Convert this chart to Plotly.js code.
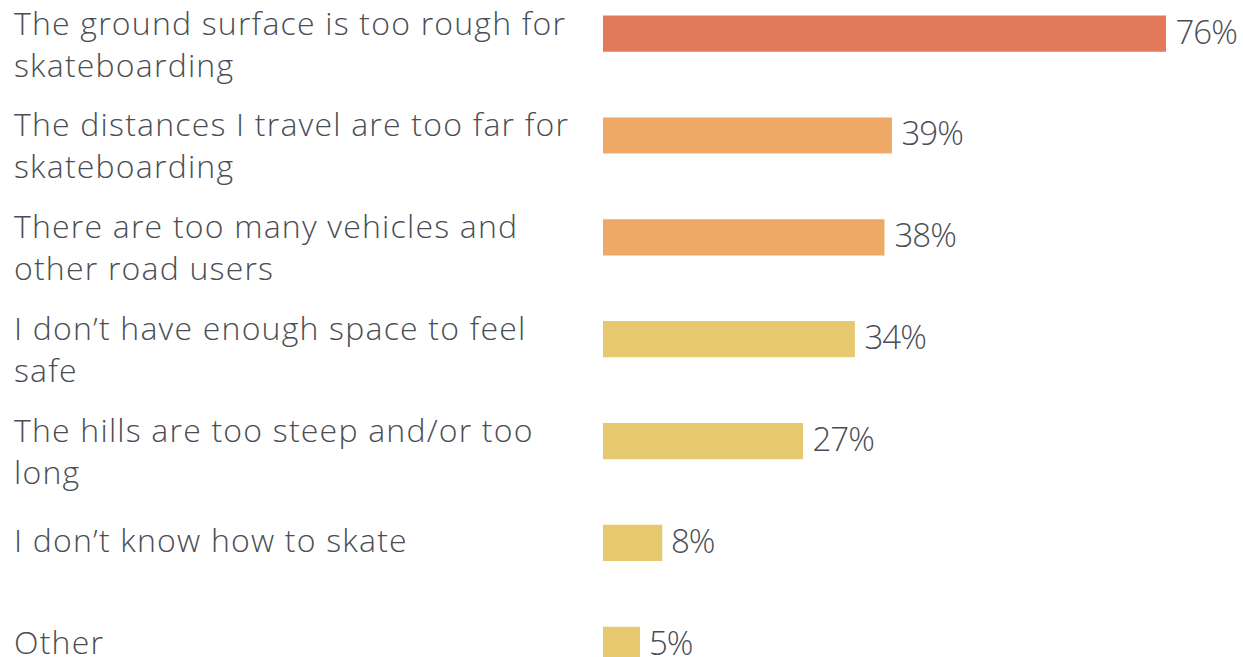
<!DOCTYPE html>
<html>
<head>
<meta charset="utf-8">
<script src="https://cdn.plot.ly/plotly-3.0.1.min.js"></script>
<style>html,body{margin:0;padding:0;background:#fff;}#chart{width:1243px;height:657px;}</style>
</head>
<body>
<div id="chart"></div>
<script>
const categories = [
  "The ground surface is too rough for<br>skateboarding",
  "The distances I travel are too far for<br>skateboarding",
  "There are too many vehicles and<br>other road users",
  "I don\u2019t have enough space to feel<br>safe",
  "The hills are too steep and/or too<br>long",
  "I don\u2019t know how to skate",
  "Other"
];
const values = [76, 39, 38, 34, 27, 8, 5];
const valueLabels = ["76%", "39%", "38%", "34%", "27%", "8%", "5%"];
const barColors = ["#e27a5a", "#efa966", "#efa966", "#e6c86e", "#e6c86e", "#e6c86e", "#e6c86e"];

const ids = categories.map((c, i) => i);
const textColor = "#4a4e54";
const fontFam = "'Open Sans', Lato, sans-serif";

const trace = {
  type: "bar",
  orientation: "h",
  x: values,
  y: ids,
  width: 0.355,
  marker: {color: barColors, line: {width: 0}},
  hoverinfo: "none"
};

const annotations = [];
const labelIdx = [], valueIdx = [];
categories.forEach((c, i) => {
  const lines = c.split("<br>");
  lines.forEach((line, k) => {
    labelIdx.push(annotations.length);
    annotations.push({
      xref: "paper", yref: "y", x: -603/640 + 12/640, y: ids[i],
      xanchor: "left", yanchor: "middle", align: "left",
      yshift: (lines.length > 1 ? 11.5 : 3) - k * 42,
      text: line, showarrow: false,
      font: {family: fontFam, size: 32, weight: 300, color: textColor}
    });
  });
  valueIdx.push(annotations.length);
  annotations.push({
    xref: "x", yref: "y", x: values[i], y: ids[i],
    xanchor: "left", yanchor: "middle", xshift: 6, yshift: 2.5,
    text: valueLabels[i], showarrow: false,
    font: {family: fontFam, size: 33, weight: 300, color: textColor}
  });
});

const layout = {
  width: 1243, height: 657,
  margin: {l: 603, r: 0, t: 0, b: 0},
  paper_bgcolor: "#fff", plot_bgcolor: "#fff",
  showlegend: false,
  xaxis: {range: [0, 640 / 7.408], visible: false, fixedrange: true},
  yaxis: {type: "linear", range: [6.12, -0.33], visible: false, fixedrange: true},
  annotations: annotations
};

Plotly.newPlot("chart", [trace], layout, {displayModeBar: false, staticPlot: true}).then(() => {
  document.querySelectorAll("#chart g.annotation").forEach(g => {
    const idx = +g.getAttribute("data-index");
    const t = g.querySelector("text");
    if (!t) return;
    if (labelIdx.includes(idx)) t.style.letterSpacing = "1.2px";
    else if (valueIdx.includes(idx)) t.style.letterSpacing = "-1px";
  });
});
</script>
</body>
</html>
